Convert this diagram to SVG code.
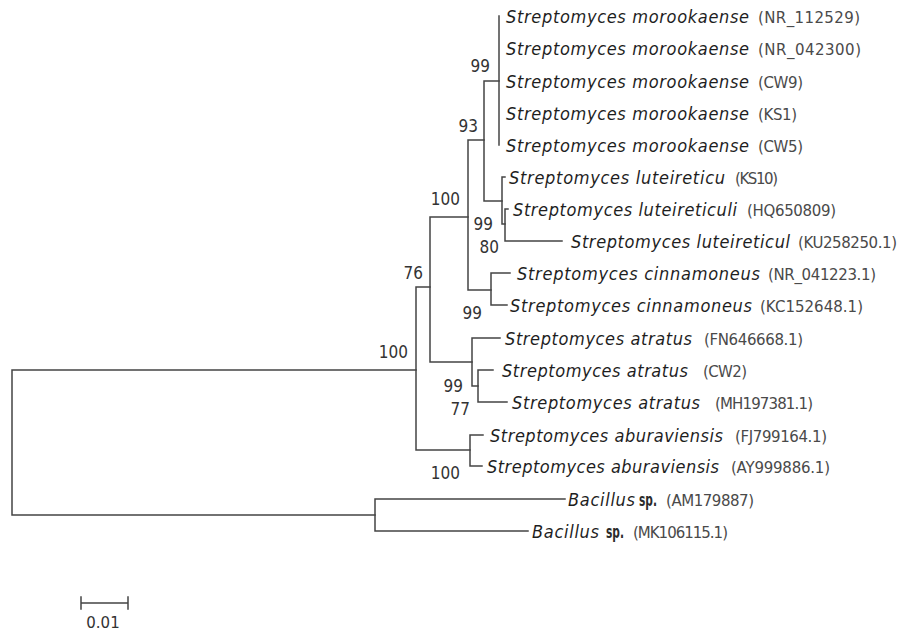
<svg xmlns="http://www.w3.org/2000/svg" width="900" height="635" viewBox="0 0 900 635">
<style>
.e{fill:none;stroke:#444;stroke-width:1.5;stroke-linecap:square}
.sp{font-family:"DejaVu Sans Condensed","DejaVu Sans",sans-serif;font-style:italic;font-size:18px;fill:#1e1e1e}
.up{font-family:"DejaVu Sans Condensed","DejaVu Sans",sans-serif;font-size:17px;font-weight:bold;fill:#2a2a2a}
.ac{font-family:"DejaVu Sans",sans-serif;font-size:15px;fill:#4a4a4a}
.bs{font-family:"DejaVu Sans Condensed","DejaVu Sans",sans-serif;font-size:17px;fill:#333;text-anchor:end}
.sc{font-family:"DejaVu Sans",sans-serif;font-size:15px;fill:#333;text-anchor:middle}
</style>
<rect width="900" height="635" fill="#fff"/>
<g id="connectors" class="e">
<path d="M12,370V515M12,370H416M12,515H375"/>
<path d="M375,499V531M375,499H565M375,531H528"/>
<path d="M416,287V450M416,287H430M416,450H470"/>
<path d="M470,435V466M470,435H483M470,466H482"/>
<path d="M430,217V362M430,217H468M430,362H472"/>
<path d="M472,338V386M472,338H500M472,386H478"/>
<path d="M478,370V402M478,370H493M478,402H507"/>
<path d="M468,140V290M468,140H484M468,290H491"/>
<path d="M491,273V305M491,273H510M491,305H507"/>
<path d="M484,81V201M484,81H499M484,201H502"/>
<path d="M499,16V145"/>
<path d="M502,177V224M502,177H505M502,224H505"/>
<path d="M505,209V241M505,209H508M505,241H562"/>
</g>
<g id="leaf1"><text class="sp" x="506" y="23" textLength="243">Streptomyces morookaense</text><text class="ac" x="758" y="23" textLength="102">(NR_112529)</text></g>
<g id="leaf2"><text class="sp" x="506" y="55" textLength="243">Streptomyces morookaense</text><text class="ac" x="758" y="55" textLength="103">(NR_042300)</text></g>
<g id="leaf3"><text class="sp" x="506" y="88" textLength="243">Streptomyces morookaense</text><text class="ac" x="758" y="88" textLength="45">(CW9)</text></g>
<g id="leaf4"><text class="sp" x="506" y="120" textLength="243">Streptomyces morookaense</text><text class="ac" x="758" y="120" textLength="39">(KS1)</text></g>
<g id="leaf5"><text class="sp" x="506" y="152" textLength="243">Streptomyces morookaense</text><text class="ac" x="758" y="152" textLength="45">(CW5)</text></g>
<g id="leaf6"><text class="sp" x="509" y="184" textLength="216">Streptomyces luteireticu</text><text class="ac" x="735" y="184" textLength="43">(KS10)</text></g>
<g id="leaf7"><text class="sp" x="513" y="216" textLength="224">Streptomyces luteireticuli</text><text class="ac" x="747" y="216" textLength="89">(HQ650809)</text></g>
<g id="leaf8"><text class="sp" x="571" y="248" textLength="219">Streptomyces luteireticul</text><text class="ac" x="798" y="248" textLength="99">(KU258250.1)</text></g>
<g id="leaf9"><text class="sp" x="517" y="280" textLength="243">Streptomyces cinnamoneus</text><text class="ac" x="768" y="280" textLength="108">(NR_041223.1)</text></g>
<g id="leaf10"><text class="sp" x="510" y="312" textLength="242">Streptomyces cinnamoneus</text><text class="ac" x="760" y="312" textLength="103">(KC152648.1)</text></g>
<g id="leaf11"><text class="sp" x="505" y="345" textLength="187">Streptomyces atratus</text><text class="ac" x="704" y="345" textLength="99">(FN646668.1)</text></g>
<g id="leaf12"><text class="sp" x="502" y="377" textLength="186">Streptomyces atratus</text><text class="ac" x="703" y="377" textLength="44">(CW2)</text></g>
<g id="leaf13"><text class="sp" x="512" y="409" textLength="188">Streptomyces atratus</text><text class="ac" x="715" y="409" textLength="98">(MH197381.1)</text></g>
<g id="leaf14"><text class="sp" x="490" y="442" textLength="233">Streptomyces aburaviensis</text><text class="ac" x="735" y="442" textLength="92">(FJ799164.1)</text></g>
<g id="leaf15"><text class="sp" x="487" y="473" textLength="232">Streptomyces aburaviensis</text><text class="ac" x="731" y="473" textLength="99">(AY999886.1)</text></g>
<g id="leaf16"><text class="sp" x="568" y="506" textLength="67">Bacillus</text><text class="up" x="639" y="506" textLength="18" lengthAdjust="spacingAndGlyphs">sp.</text><text class="ac" x="666" y="506" textLength="88">(AM179887)</text></g>
<g id="leaf17"><text class="sp" x="532" y="538" textLength="67">Bacillus</text><text class="up" x="606" y="538" textLength="18" lengthAdjust="spacingAndGlyphs">sp.</text><text class="ac" x="633" y="538" textLength="95">(MK106115.1)</text></g>
<g id="bootstrap">
<text class="bs" x="490" y="72">99</text>
<text class="bs" x="478" y="132">93</text>
<text class="bs" x="460" y="205">100</text>
<text class="bs" x="493" y="230">99</text>
<text class="bs" x="499" y="253">80</text>
<text class="bs" x="423" y="279">76</text>
<text class="bs" x="482" y="319">99</text>
<text class="bs" x="408" y="358">100</text>
<text class="bs" x="463" y="392">99</text>
<text class="bs" x="470" y="415">77</text>
<text class="bs" x="460" y="479">100</text>
</g>
<g id="scalebar">
<path class="e" d="M81,603H128M81,597V609M128,597V609"/>
<text class="sc" x="103" y="628">0.01</text>
</g>
</svg>
